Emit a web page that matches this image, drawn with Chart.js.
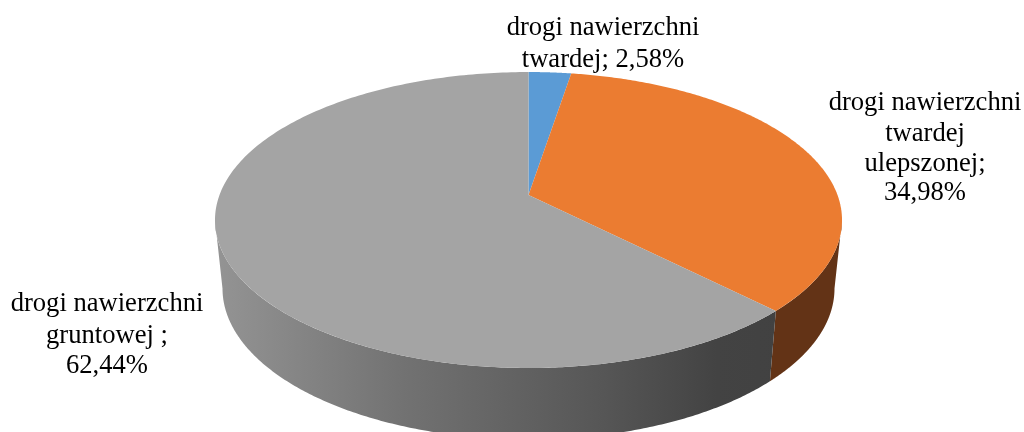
<!DOCTYPE html>
<html>
<head>
<meta charset="utf-8">
<style>html,body{margin:0;padding:0;background:#fff}canvas{display:block}</style>
<script src="https://cdn.jsdelivr.net/npm/chart.js@4/dist/chart.umd.js"></script>
</head>
<body>
<canvas id="c" width="1024" height="432"></canvas>
<script>
const categories = ['drogi nawierzchni twardej', 'drogi nawierzchni twardej ulepszonej', 'drogi nawierzchni gruntowej '];
const shares = [2.58, 34.98, 62.44];
const topColors = ['#5b9bd5', '#eb7c31', '#a4a4a4'];
const labelLines = [
  ['drogi nawierzchni', 'twardej; 2,58%'],
  ['drogi nawierzchni', 'twardej', 'ulepszonej;', '34,98%'],
  ['drogi nawierzchni', 'gruntowej ;', '62,44%']
];

const cx = 528.5;
const topPlane = {a: 110.8, b: 195, k: -0.169, c: 309};
const basePlane = {a: 102.2, b: 263, k: -0.169, c: 301.6};
function project(p, th) {
  const x = Math.sin(th), y = -Math.cos(th), d = 1 + p.k * y;
  return [cx + p.c * x / d, (p.a * y + p.b) / d];
}
const D = Math.PI / 180;
const Arc = Chart.registry.getElement('arc');
Arc.prototype.draw = function (ctx) {
  const i = this.$context.dataIndex;
  const s = this.startAngle + Math.PI / 2, e = this.endAngle + Math.PI / 2;
  const N = 240;
  // wall
  const ws = Math.max(s, 99.7 * D), we = Math.min(e, 260.3 * D);
  if (we > ws) {
    ctx.beginPath();
    for (let j = 0; j <= N; j++) { const p = project(topPlane, ws + (we - ws) * j / N); j ? ctx.lineTo(p[0], p[1]) : ctx.moveTo(p[0], p[1]); }
    for (let j = N; j >= 0; j--) { const p = project(basePlane, ws + (we - ws) * j / N); ctx.lineTo(p[0], p[1]); }
    ctx.closePath();
    if (i === 2) {
      const g = ctx.createLinearGradient(215, 0, 842, 0);
      g.addColorStop(0, '#949494');
      g.addColorStop(0.3, '#727272');
      g.addColorStop(0.62, '#565656');
      g.addColorStop(0.8, '#434343');
      g.addColorStop(1, '#404040');
      ctx.fillStyle = g;
    } else {
      ctx.fillStyle = '#633316';
    }
    ctx.fill();
  }
  // top
  ctx.beginPath();
  ctx.moveTo(cx, topPlane.b);
  for (let j = 0; j <= N; j++) { const p = project(topPlane, s + (e - s) * j / N); ctx.lineTo(p[0], p[1]); }
  ctx.closePath();
  ctx.fillStyle = this.options.backgroundColor;
  ctx.fill();
};

const labelPos = [
  {x: 603, y: [35, 67]},
  {x: 925, y: [110, 141, 171, 200]},
  {x: 107, y: [311, 343, 373]}
];
const textPlugin = {
  id: 'sliceText',
  afterDatasetsDraw(chart) {
    const ctx = chart.ctx;
    ctx.save();
    ctx.font = '26.6px "Liberation Serif"';
    ctx.fillStyle = '#000';
    ctx.textAlign = 'center';
    ctx.textBaseline = 'alphabetic';
    labelLines.forEach((ls, i) => ls.forEach((t, j) => ctx.fillText(t, labelPos[i].x, labelPos[i].y[j])));
    ctx.restore();
  }
};

new Chart(document.getElementById('c'), {
  type: 'pie',
  data: {labels: categories, datasets: [{data: shares, backgroundColor: topColors, borderWidth: 0}]},
  options: {
    responsive: false,
    animation: false,
    plugins: {legend: {display: false}, tooltip: {enabled: false}}
  },
  plugins: [textPlugin]
});
</script>
</body>
</html>
